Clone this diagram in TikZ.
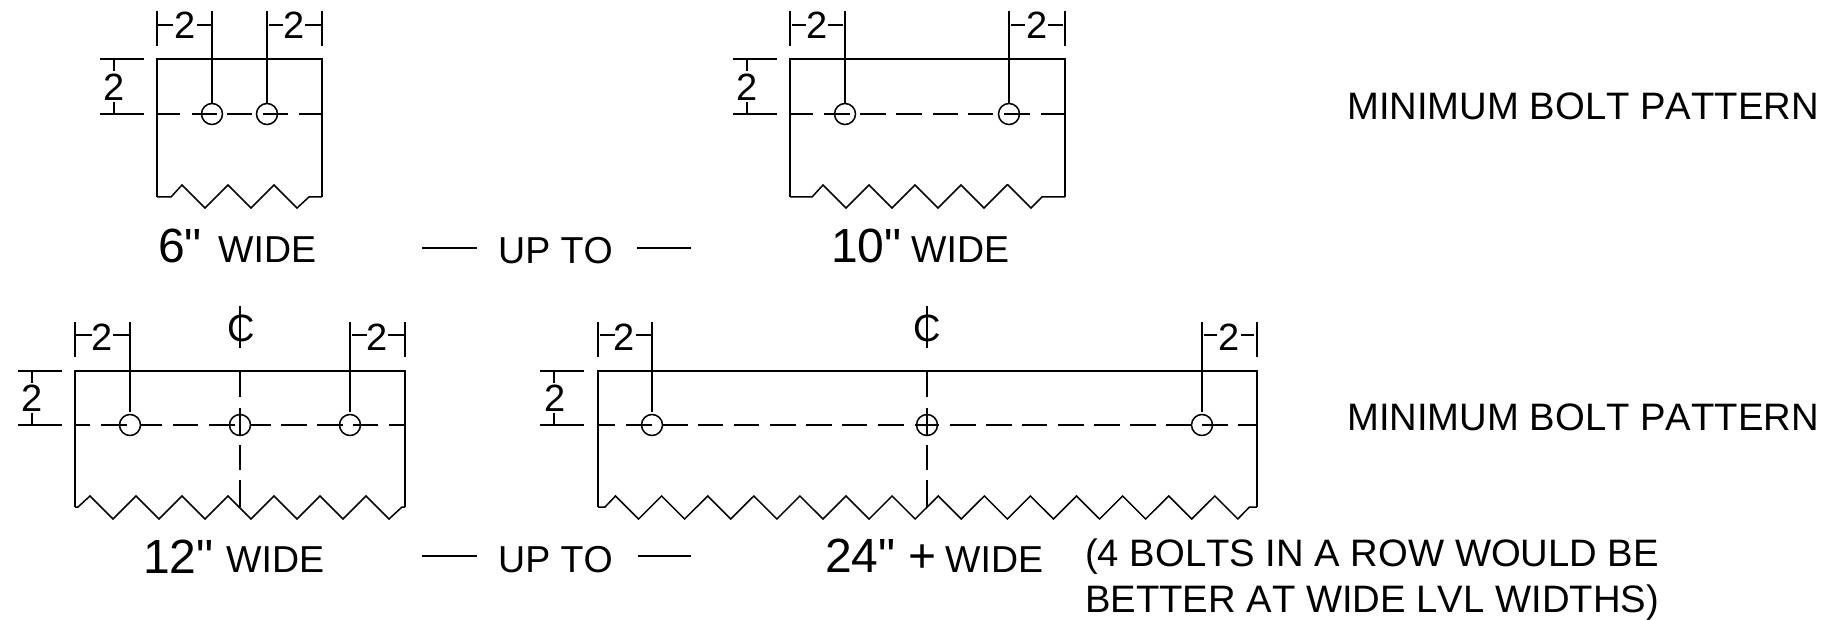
\documentclass[tikz,border=0pt]{standalone}
\usepackage{fontspec}
\setmainfont{Liberation Sans}[Ligatures=TeXOff,Kerning=Off]
\tikzset{
  outline/.style={line width=1.7pt,line join=miter},
  thinline/.style={line width=1.5pt},
  dimtext/.style={inner sep=0pt,anchor=base,font=\fontsize{38}{38}\selectfont},
  bigtext/.style={inner sep=0pt,anchor=base west,font=\fontsize{48}{48}\selectfont},
  labeltext/.style={inner sep=0pt,anchor=base west,font=\fontsize{37.5}{38}\selectfont},
  notetext/.style={labeltext,font=\fontsize{38.25}{38}\selectfont},
}
\begin{document}
\begin{tikzpicture}[x=1pt,y=-1pt]
\useasboundingbox (0,0) rectangle (1830,620);
% beam outlines
\foreach \xa/\xb/\ya/\yb in {157/322/59/197,790/1065/59/197,75/405/371/507,598/1257/371/507}
  \draw[outline] (\xa,\yb) -- (\xa,\ya) -- (\xb,\ya) -- (\xb,\yb);
% broken bottom edges
\draw[thinline] (157,197) -- (171,197) -- (182,185) foreach \k in {1,2} {-- ++(23,23) -- ++(23,-23)} -- ++(23,23) -- (309,197) -- (322,197);
\draw[thinline] (790,197) -- (812,197) -- (823,185) foreach \k in {1,...,4} {-- ++(23,23) -- ++(23,-23)} -- (1008,185) -- (1031,208) -- (1042,197) -- (1065,197);
\draw[thinline] (75,507) -- (78,507) -- (90,496) foreach \k in {1,...,6} {-- ++(23,23) -- ++(23,-23)} -- ++(23,23) -- (402,507) -- (405,507);
\draw[thinline] (598,507) -- (605,507) -- (615.5,496) foreach \k in {1,...,13} {-- ++(23.05,23) -- ++(23.05,-23)} -- ++(23,23) -- (1249.5,507) -- (1257,507);
% bolt holes and leaders
\foreach \x/\ya/\yb/\yt in {212/114/103/11,267/114/103/11,845/114/103/11,1009/114/103/11,130/425/412/322,350/425/412/322,652/425/412/322,1202/425/412/322} {
  \draw[thinline] (\x,\yb) -- (\x,\yt);
  \draw[thinline] (\x,\ya) circle (10.5);
}
\foreach \x in {240,927} \draw[thinline] (\x,425) circle (10.5);
% center lines of the bolts
\foreach \xa/\xb in {157/180,192/217,227/252,263/288,299/322,790/813,824/850,860/886,896/922,933/958,968/993,1004/1030,1041/1065}
  \draw[thinline] (\xa,114) -- (\xb,114);
\foreach \xa/\xb in {75/90,101/127,141/162,173/198,209/235,250/271,281/307,317/343,353/378,389/405,598/615,626/652,663/688,698/723,734/759,770/796,806/832,842/867,878/904,915/939,950/976,986/1012,1022/1047,1058/1084,1094/1120,1130/1156,1166/1192,1202/1228,1238/1257}
  \draw[thinline] (\xa,425) -- (\xb,425);
\foreach \x in {240,927} {
  \foreach \ya/\yb in {371/397,408/435,445/470,480/507}
    \draw[thinline] (\x,\ya) -- (\x,\yb);
  \draw[thinline] (\x,306) -- (\x,348);
}
% end ticks of the top dimensions
\foreach \x/\ya/\yb in {157/11/46,322/11/46,790/11/46,1065/11/46,75/322/357,405/322/357,598/322/357,1257/322/357}
  \draw[thinline] (\x,\ya) -- (\x,\yb);
\foreach \xa/\xb/\y in {158/173/25,197/211/25,269/283/25,305/321/25,792/806/25,828/843/25,1011/1025/25,1048/1063/25,76/92/335,113/130/335,352/367/335,388/405/335,600/614.5/335,636/651/335,1203.5/1217/335,1241/1254/335}
  \draw[thinline] (\xa,\y) -- (\xb,\y);
% side dimensions
\foreach \xa/\xb/\ya/\yb in {100/144/59/114,733/777/59/114,18/62/371/425,540/584/371/425} {
  \draw[thinline] (\xa,\ya) -- (\xb,\ya);
  \draw[thinline] (\xa,\yb) -- (\xb,\yb);
  \draw[thinline] ({\xa+14},\ya) -- ++(0,12);
  \draw[thinline] ({\xa+14},\yb) -- ++(0,-12);
}
% dimension figures
\node[dimtext] (dimAa) at (185,39) {2};
\node[dimtext] (dimAb) at (294,39) {2};
\node[dimtext] (dimAc) at (114,101) {2};
\node[dimtext] (dimBa) at (817,39) {2};
\node[dimtext] (dimBb) at (1037,39) {2};
\node[dimtext] (dimBc) at (747,101) {2};
\node[dimtext] (dimCa) at (102,350) {2};
\node[dimtext] (dimCb) at (377,350) {2};
\node[dimtext] (dimCc) at (32,411) {2};
\node[dimtext] (dimDa) at (624,350) {2};
\node[dimtext] (dimDb) at (1229,350) {2};
\node[dimtext] (dimDc) at (555,411) {2};
\node[dimtext] (clC) at (241,341) {C};
\node[dimtext] (clD) at (927,341) {C};
% widths
\node[bigtext] (wideA) at (158,262) {6"};
\node[labeltext] (wideAt) at (218,262) {WIDE};
\node[bigtext] (wideB) at (831,262) {10"};
\node[labeltext] (wideBt) at (911,262) {WIDE};
\node[bigtext] (wideC) at (143,573) {12"};
\node[labeltext] (wideCt) at (226,572) {WIDE};
\node[bigtext] (wideD) at (825,572) {24" +};
\node[labeltext] (wideDt) at (945,572) {WIDE};
% up to labels
\coordinate (upAa) at (422,248);
\coordinate (upAb) at (477,248);
\coordinate (upAc) at (637,248);
\coordinate (upAd) at (691,248);
\coordinate (upBa) at (422,556);
\coordinate (upBb) at (477,556);
\coordinate (upBc) at (638,556);
\coordinate (upBd) at (691,556);
\draw[thinline] (upAa) -- (upAb);
\draw[thinline] (upAc) -- (upAd);
\draw[thinline] (upBa) -- (upBb);
\draw[thinline] (upBc) -- (upBd);
\node[labeltext] (upA) at (498,263) {UP TO};
\node[labeltext] (upB) at (498,572) {UP TO};
% notes
\node[notetext] (patA) at (1347,120) {MINIMUM BOLT PATTERN};
\node[notetext] (patB) at (1347,430) {MINIMUM BOLT PATTERN};
\node[notetext] (noteA) at (1085,566) {(4 BOLTS IN A ROW WOULD BE};
\node[notetext] (noteB) at (1085,612) {BETTER AT WIDE LVL WIDTHS)};
\end{tikzpicture}
\end{document}
